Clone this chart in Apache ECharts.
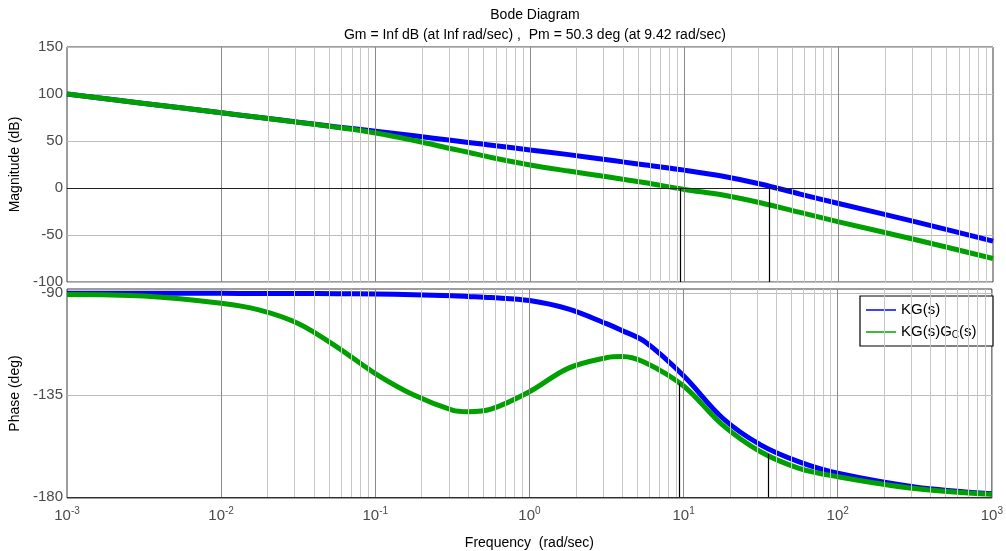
<!DOCTYPE html>
<html><head><meta charset="utf-8">
<script src="https://cdn.jsdelivr.net/npm/echarts@6/dist/echarts.min.js"></script>
<style>html,body{margin:0;padding:0;background:#fff}#c{width:1006px;height:551px}</style>
</head><body><div id="c"></div>
<script>
// Frequencies (rad/sec)
const freq = [0.001, 0.00316, 0.01, 0.0178, 0.0316, 0.0562, 0.1, 0.178, 0.316, 0.398, 0.562, 1, 1.78, 3.16, 3.98, 5.62, 10, 17.8, 31.6, 56.2, 100, 316, 1000];
// Magnitude (dB)
const magKG   = [100, 90, 80, 75, 70, 65, 60.5, 55.5, 50.5, 48.5, 45.5, 40.5, 35.5, 30, 27.8, 24.5, 19, 12.5, 4, -6.5, -16.5, -36, -56.5];
const magKGGc = [100, 90, 80, 75, 69.8, 64.5, 58.5, 50.5, 41.5, 38, 32.5, 24.5, 18, 12, 9.4, 5.5, -1.5, -7.5, -16, -26, -36, -55, -75];
// Phase (deg)
const phKG    = [-90.1, -90.1, -90.1, -90.2, -90.2, -90.3, -90.4, -90.7, -91.2, -91.5, -92, -93.3, -97, -103.5, -106.5, -111.5, -126.5, -145, -157, -164.5, -169.5, -175.5, -178.5];
const phKGGc  = [-90.6, -91.3, -94.5, -97.5, -103.4, -113.7, -125.5, -135, -141.6, -142.3, -141.2, -133.5, -123.2, -118.5, -118, -120.6, -131, -148, -160, -167.3, -171, -176.2, -178.8];
// Tick labels
const magTicks = [-100, -50, 0, 50, 100, 150];
const phaseTicks = [-180, -135, -90];
// Margin markers
const pmFreq = 9.42, pmPhase = -129.7;
const wc2Freq = 35.6, wc2Phase = -161;
const seriesNames = ['KG(s)', 'KG(s)GC(s)'];

const minorVals = [];
for (let e = -3; e < 3; e++) for (let k = 2; k <= 9; k++) minorVals.push(+(k * Math.pow(10, e)).toPrecision(3));
const majorVals = [0.01, 0.1, 1, 10, 100];

const zip = (a, b) => a.map((v, i) => [v, b[i]]);
const gridLines = (extra) => ({
  silent: true, symbol: 'none', animation: false,
  label: { show: false },
  data: minorVals.map(v => ({ xAxis: v, lineStyle: { color: '#c6c6c6', width: 1, type: 'solid' } }))
    .concat(majorVals.map(v => ({ xAxis: v, lineStyle: { color: '#8a8a8a', width: 1, type: 'solid' } })))
    .concat(extra)
});
const blk = { color: '#000', width: 1.2, type: 'solid' };

const tickFont = 'Liberation Sans';
const lineSeries = (name, xi, data, color, z, extra) => Object.assign({
  name, type: 'line', xAxisIndex: xi, yAxisIndex: xi, data, showSymbol: false, symbol: 'none',
  smooth: 0.35, lineStyle: { color, width: 5, cap: 'butt', join: 'round' }, itemStyle: { color }, z
}, extra || {});

const chart = echarts.init(document.getElementById('c'), null, { renderer: 'canvas' });
chart.setOption({
  animation: false,
  backgroundColor: '#fff',
  title: [
    { text: 'Bode Diagram', left: 530, top: 3, textAlign: 'center', textStyle: { fontFamily: tickFont, fontSize: 14, fontWeight: 'normal', color: '#000' } },
    { text: 'Gm = Inf dB (at Inf rad/sec) ,  Pm = 50.3 deg (at 9.42 rad/sec)', left: 530, top: 23, textAlign: 'center', textStyle: { fontFamily: tickFont, fontSize: 14, fontWeight: 'normal', color: '#000' } }
  ],
  legend: {
    data: seriesNames, orient: 'vertical', left: 860, top: 296,
    backgroundColor: '#fff', borderColor: '#000', borderWidth: 1.2, borderRadius: 0,
    padding: [6, 6, 6, 6], itemGap: 6, itemWidth: 30, itemHeight: 1.5, icon: 'rect',
    formatter: n => n === 'KG(s)GC(s)' ? 'KG(s)G{sub|C}(s)' : n,
    textStyle: { fontFamily: tickFont, fontSize: 15, color: '#000', width: 86, lineHeight: 16,
      rich: { sub: { fontFamily: tickFont, fontSize: 10, color: '#000', verticalAlign: 'bottom', padding: [8, 0, 0, 0] } } }
  },
  grid: [
    { left: 67, top: 47, width: 926, height: 235, show: true, borderColor: '#3a3a3a', borderWidth: 1, backgroundColor: 'transparent' },
    { left: 67, top: 289, width: 926, height: 209, show: true, borderColor: '#3a3a3a', borderWidth: 1, backgroundColor: 'transparent' }
  ],
  xAxis: [
    { type: 'log', logBase: 10, gridIndex: 0, min: 0.001, max: 1000,
      axisLine: { show: false }, axisTick: { show: false }, axisLabel: { show: false }, splitLine: { show: false } },
    { type: 'log', logBase: 10, gridIndex: 1, min: 0.001, max: 1000,
      name: 'Frequency  (rad/sec)', nameLocation: 'middle', nameGap: 38,
      nameTextStyle: { fontFamily: tickFont, fontSize: 14, color: '#000' },
      axisLine: { show: false }, axisTick: { show: false }, splitLine: { show: false },
      axisLabel: { margin: 8,
        formatter: v => '{b|10}{s|' + Math.round(Math.log10(v)) + '}',
        rich: { b: { fontFamily: tickFont, fontSize: 15, color: '#4a4a4a' }, s: { fontFamily: tickFont, fontSize: 10, color: '#4a4a4a', verticalAlign: 'top', padding: [0, 0, 10, 0] } } } }
  ],
  yAxis: [
    { type: 'value', gridIndex: 0, min: magTicks[0], max: magTicks[magTicks.length - 1], interval: 50,
      name: 'Magnitude (dB)', nameLocation: 'middle', nameGap: 42, nameRotate: 90,
      nameTextStyle: { fontFamily: tickFont, fontSize: 14, color: '#000' },
      axisLine: { show: false }, axisTick: { show: false },
      axisLabel: { fontFamily: tickFont, fontSize: 15, color: '#4a4a4a', margin: 4 },
      splitLine: { show: true, lineStyle: { color: '#bdbdbd', width: 1 } } },
    { type: 'value', gridIndex: 1, min: -180.4, max: -88.2,
      name: 'Phase (deg)', nameLocation: 'middle', nameGap: 42, nameRotate: 90,
      nameTextStyle: { fontFamily: tickFont, fontSize: 14, color: '#000' },
      axisLine: { show: false },
      axisTick: { show: false, customValues: phaseTicks },
      axisLabel: { fontFamily: tickFont, fontSize: 15, color: '#4a4a4a', margin: 4, customValues: phaseTicks },
      splitLine: { show: true, lineStyle: { color: '#bdbdbd', width: 1 } } }
  ],
  series: [
    lineSeries(seriesNames[0], 0, zip(freq, magKG), '#0000ff', 3, {
      markLine: gridLines([
        { yAxis: 0, lineStyle: { color: '#202020', width: 1.2, type: 'solid' } },
        [{ coord: [pmFreq, 0], lineStyle: blk }, { coord: [pmFreq, -100] }],
        [{ coord: [wc2Freq, 0], lineStyle: blk }, { coord: [wc2Freq, -100] }]
      ]) }),
    lineSeries(seriesNames[1], 0, zip(freq, magKGGc), '#00a000', 4),
    lineSeries(seriesNames[0], 1, zip(freq, phKG), '#0000ff', 3, {
      markLine: gridLines([
        { yAxis: -180, lineStyle: { color: '#303030', width: 1.2, type: 'solid' } },
        [{ coord: [pmFreq, -180], lineStyle: blk }, { coord: [pmFreq, pmPhase] }],
        [{ coord: [wc2Freq, -180], lineStyle: blk }, { coord: [wc2Freq, wc2Phase] }]
      ]) }),
    lineSeries(seriesNames[1], 1, zip(freq, phKGGc), '#00a000', 4)
  ]
});
</script></body></html>
